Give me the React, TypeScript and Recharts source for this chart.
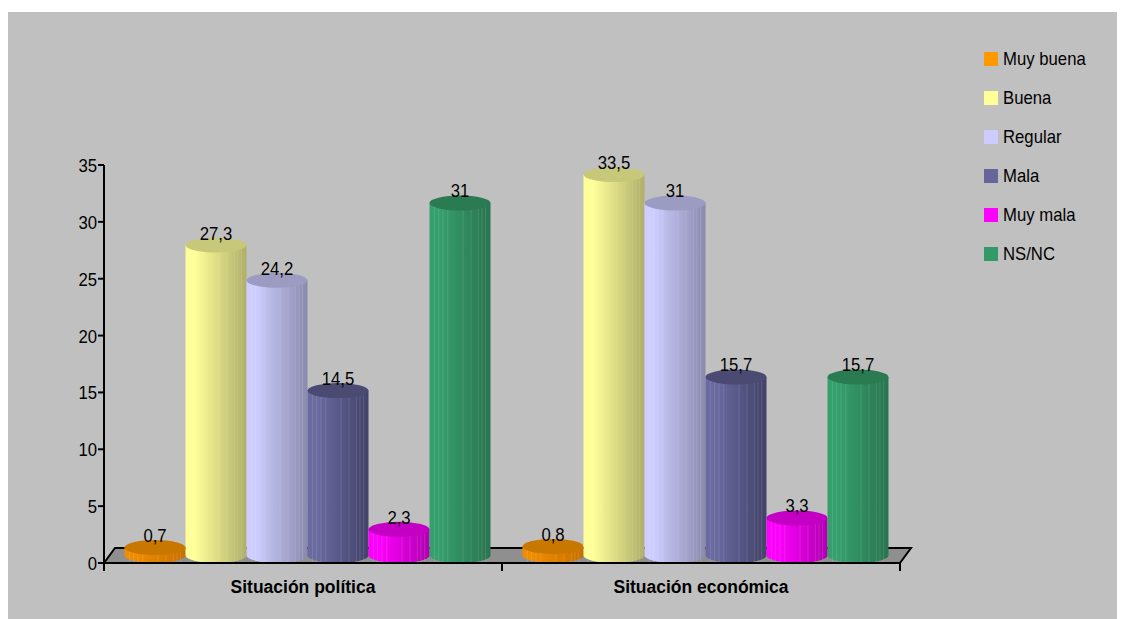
import React from 'react';
import { BarChart, Bar, XAxis, YAxis, Legend, LabelList, Customized } from 'recharts';

const categories = ['Situación política', 'Situación económica'];
const seriesNames = ['Muy buena', 'Buena', 'Regular', 'Mala', 'Muy mala', 'NS/NC'];
const muyBuena = [0.7, 0.8];
const buena = [27.3, 33.5];
const regular = [24.2, 31];
const mala = [14.5, 15.7];
const muyMala = [2.3, 3.3];
const nsnc = [31, 15.7];
const yTicks = [0, 5, 10, 15, 20, 25, 30, 35];

const seriesValues = [muyBuena, buena, regular, mala, muyMala, nsnc];
const keys = ['s0', 's1', 's2', 's3', 's4', 's5'];

// legend colour, light side of the body, dark side of the body, top cap
const palette = [
  { legend: '#FF9900', light: '#F08C00', dark: '#C87000', top: '#C87800' },
  { legend: '#FFFF99', light: '#FFFF99', dark: '#AFAF6A', top: '#C8C87A' },
  { legend: '#CCCCFF', light: '#CDCDFF', dark: '#8A8AAE', top: '#9C9CC2' },
  { legend: '#666699', light: '#6A6AA0', dark: '#42426A', top: '#4A4A72' },
  { legend: '#FF00FF', light: '#FF00FF', dark: '#B000B0', top: '#C400C4' },
  { legend: '#339966', light: '#35A06C', dark: '#2A7450', top: '#2A7A52' },
];

const data = categories.map((name, i) => {
  const row: Record<string, string | number> = { name };
  keys.forEach((k, j) => (row[k] = seriesValues[j][i]));
  return row;
});

const W = 1117;
const H = 607;
const LEGEND_W = 130;
// the vertical legend on the right adds its own width to the right offset
const MARGIN = { top: 153, right: 225 - LEGEND_W, left: 0, bottom: 0 };
const Y_AXIS_W = 96;
const X_AXIS_H = 56;
const PLOT_LEFT = Y_AXIS_W;
const PLOT_RIGHT = W - 225;
const PLOT_BOTTOM = H - X_AXIS_H;
// 3D depth of the floor
const DX = 11;
const DY = 15;

const SANS = '"Liberation Sans", Arial, sans-serif';
const SQUEEZE = 0.88;

const fmt = (v: number) => String(v).replace('.', ',');

function cylinder(idx: number) {
  return (props: any) => {
    const { x, y, width, height } = props;
    const c = palette[idx];
    const rx = width / 2;
    const ry = DY / 2;
    const left = x + DX / 2;
    const right = left + width;
    const cx = left + rx;
    const yTop = y - ry;
    const yBot = y + height - ry;
    const stripes = [0.08, 0.15, 0.22, 0.3, 0.55, 0.68, 0.8, 0.86, 0.92];
    return (
      <g>
        <path
          d={`M${left},${yTop} L${left},${yBot} A${rx},${ry} 0 0 0 ${right},${yBot} L${right},${yTop} Z`}
          fill={`url(#cyl${idx})`}
        />
        {stripes.map((s) => (
          <line
            key={s}
            x1={left + width * s}
            x2={left + width * s}
            y1={yTop}
            y2={yBot + ry * 0.9}
            stroke="#ffffff"
            strokeOpacity={0.12}
            strokeWidth={1}
          />
        ))}
        <ellipse cx={cx} cy={yTop} rx={rx} ry={ry} fill={c.top} />
      </g>
    );
  };
}

const NarrowText = ({ x, y, anchor, children }: any) => (
  <text
    transform={`translate(${x},${y}) scale(${SQUEEZE},1)`}
    textAnchor={anchor}
    fontFamily={SANS}
    fontSize={19}
    fill="#000"
  >
    {children}
  </text>
);

const ValueLabel = (props: any) => {
  const { x, y, width, value } = props;
  return (
    <NarrowText x={x + width / 2 + DX / 2} y={y - 13} anchor="middle">
      {fmt(value)}
    </NarrowText>
  );
};

const YTick = (props: any) => {
  const { x, y, payload } = props;
  return (
    <NarrowText x={x} y={y + 7} anchor="end">
      {payload.value}
    </NarrowText>
  );
};

const Floor = () => {
  const x0 = PLOT_LEFT;
  const x1 = PLOT_RIGHT;
  const yb = PLOT_BOTTOM;
  const mid = (x0 + x1) / 2;
  const pts = `${x0},${yb} ${x0 + DX},${yb - DY} ${x1 + DX},${yb - DY} ${x1},${yb}`;
  return (
    <g>
      <polygon points={pts} fill="#8F8F8F" />
      <polyline points={pts} fill="none" stroke="#000" strokeWidth={2} />
      {[x0, mid, x1].map((tx) => (
        <line key={tx} x1={tx} x2={tx} y1={yb} y2={yb + 8} stroke="#000" strokeWidth={2} />
      ))}
    </g>
  );
};

const LegendBox = () => (
  <div style={{ fontFamily: SANS, fontSize: 19, color: '#000' }}>
    {seriesNames.map((name, i) => (
      <div key={name} style={{ display: 'flex', alignItems: 'center', height: 39 }}>
        <span style={{ width: 14, height: 14, background: palette[i].legend, marginRight: 5, flex: 'none' }} />
        <span style={{ display: 'inline-block', transform: `scaleX(${SQUEEZE})`, transformOrigin: 'left center', whiteSpace: 'nowrap' }}>
          {name}
        </span>
      </div>
    ))}
  </div>
);

export default function App() {
  return (
    <div style={{ marginTop: 4, width: W, height: H, background: '#C0C0C0' }}>
      <BarChart width={W} height={H} data={data} margin={MARGIN} barCategoryGap={15} barGap={0}>
        <defs>
          {palette.map((c, i) => (
            <linearGradient key={i} id={`cyl${i}`} x1="0" y1="0" x2="1" y2="0">
              <stop offset="0" stopColor={c.light} />
              <stop offset="0.15" stopColor={c.light} />
              <stop offset="1" stopColor={c.dark} />
            </linearGradient>
          ))}
        </defs>
        <Customized component={<Floor />} />
        <XAxis
          dataKey="name"
          height={X_AXIS_H}
          axisLine={{ stroke: '#000', strokeWidth: 2 }}
          tickLine={false}
          tickSize={0}
          tickMargin={18}
          tick={{ fill: '#000', fontSize: 17.5, fontWeight: 700, fontFamily: SANS }}
        />
        <YAxis
          width={Y_AXIS_W}
          domain={[0, 35]}
          ticks={yTicks}
          interval={0}
          axisLine={{ stroke: '#000', strokeWidth: 2 }}
          tickLine={{ stroke: '#000', strokeWidth: 2 }}
          tickSize={6}
          tickMargin={1}
          tick={<YTick />}
        />
        <Legend
          layout="vertical"
          verticalAlign="top"
          align="right"
          content={<LegendBox />}
          wrapperStyle={{ left: 976, top: 27, width: LEGEND_W }}
        />
        {keys.map((k, i) => (
          <Bar key={k} dataKey={k} name={seriesNames[i]} fill={palette[i].legend} shape={cylinder(i)} isAnimationActive={false}>
            <LabelList dataKey={k} content={<ValueLabel />} />
          </Bar>
        ))}
      </BarChart>
    </div>
  );
}
